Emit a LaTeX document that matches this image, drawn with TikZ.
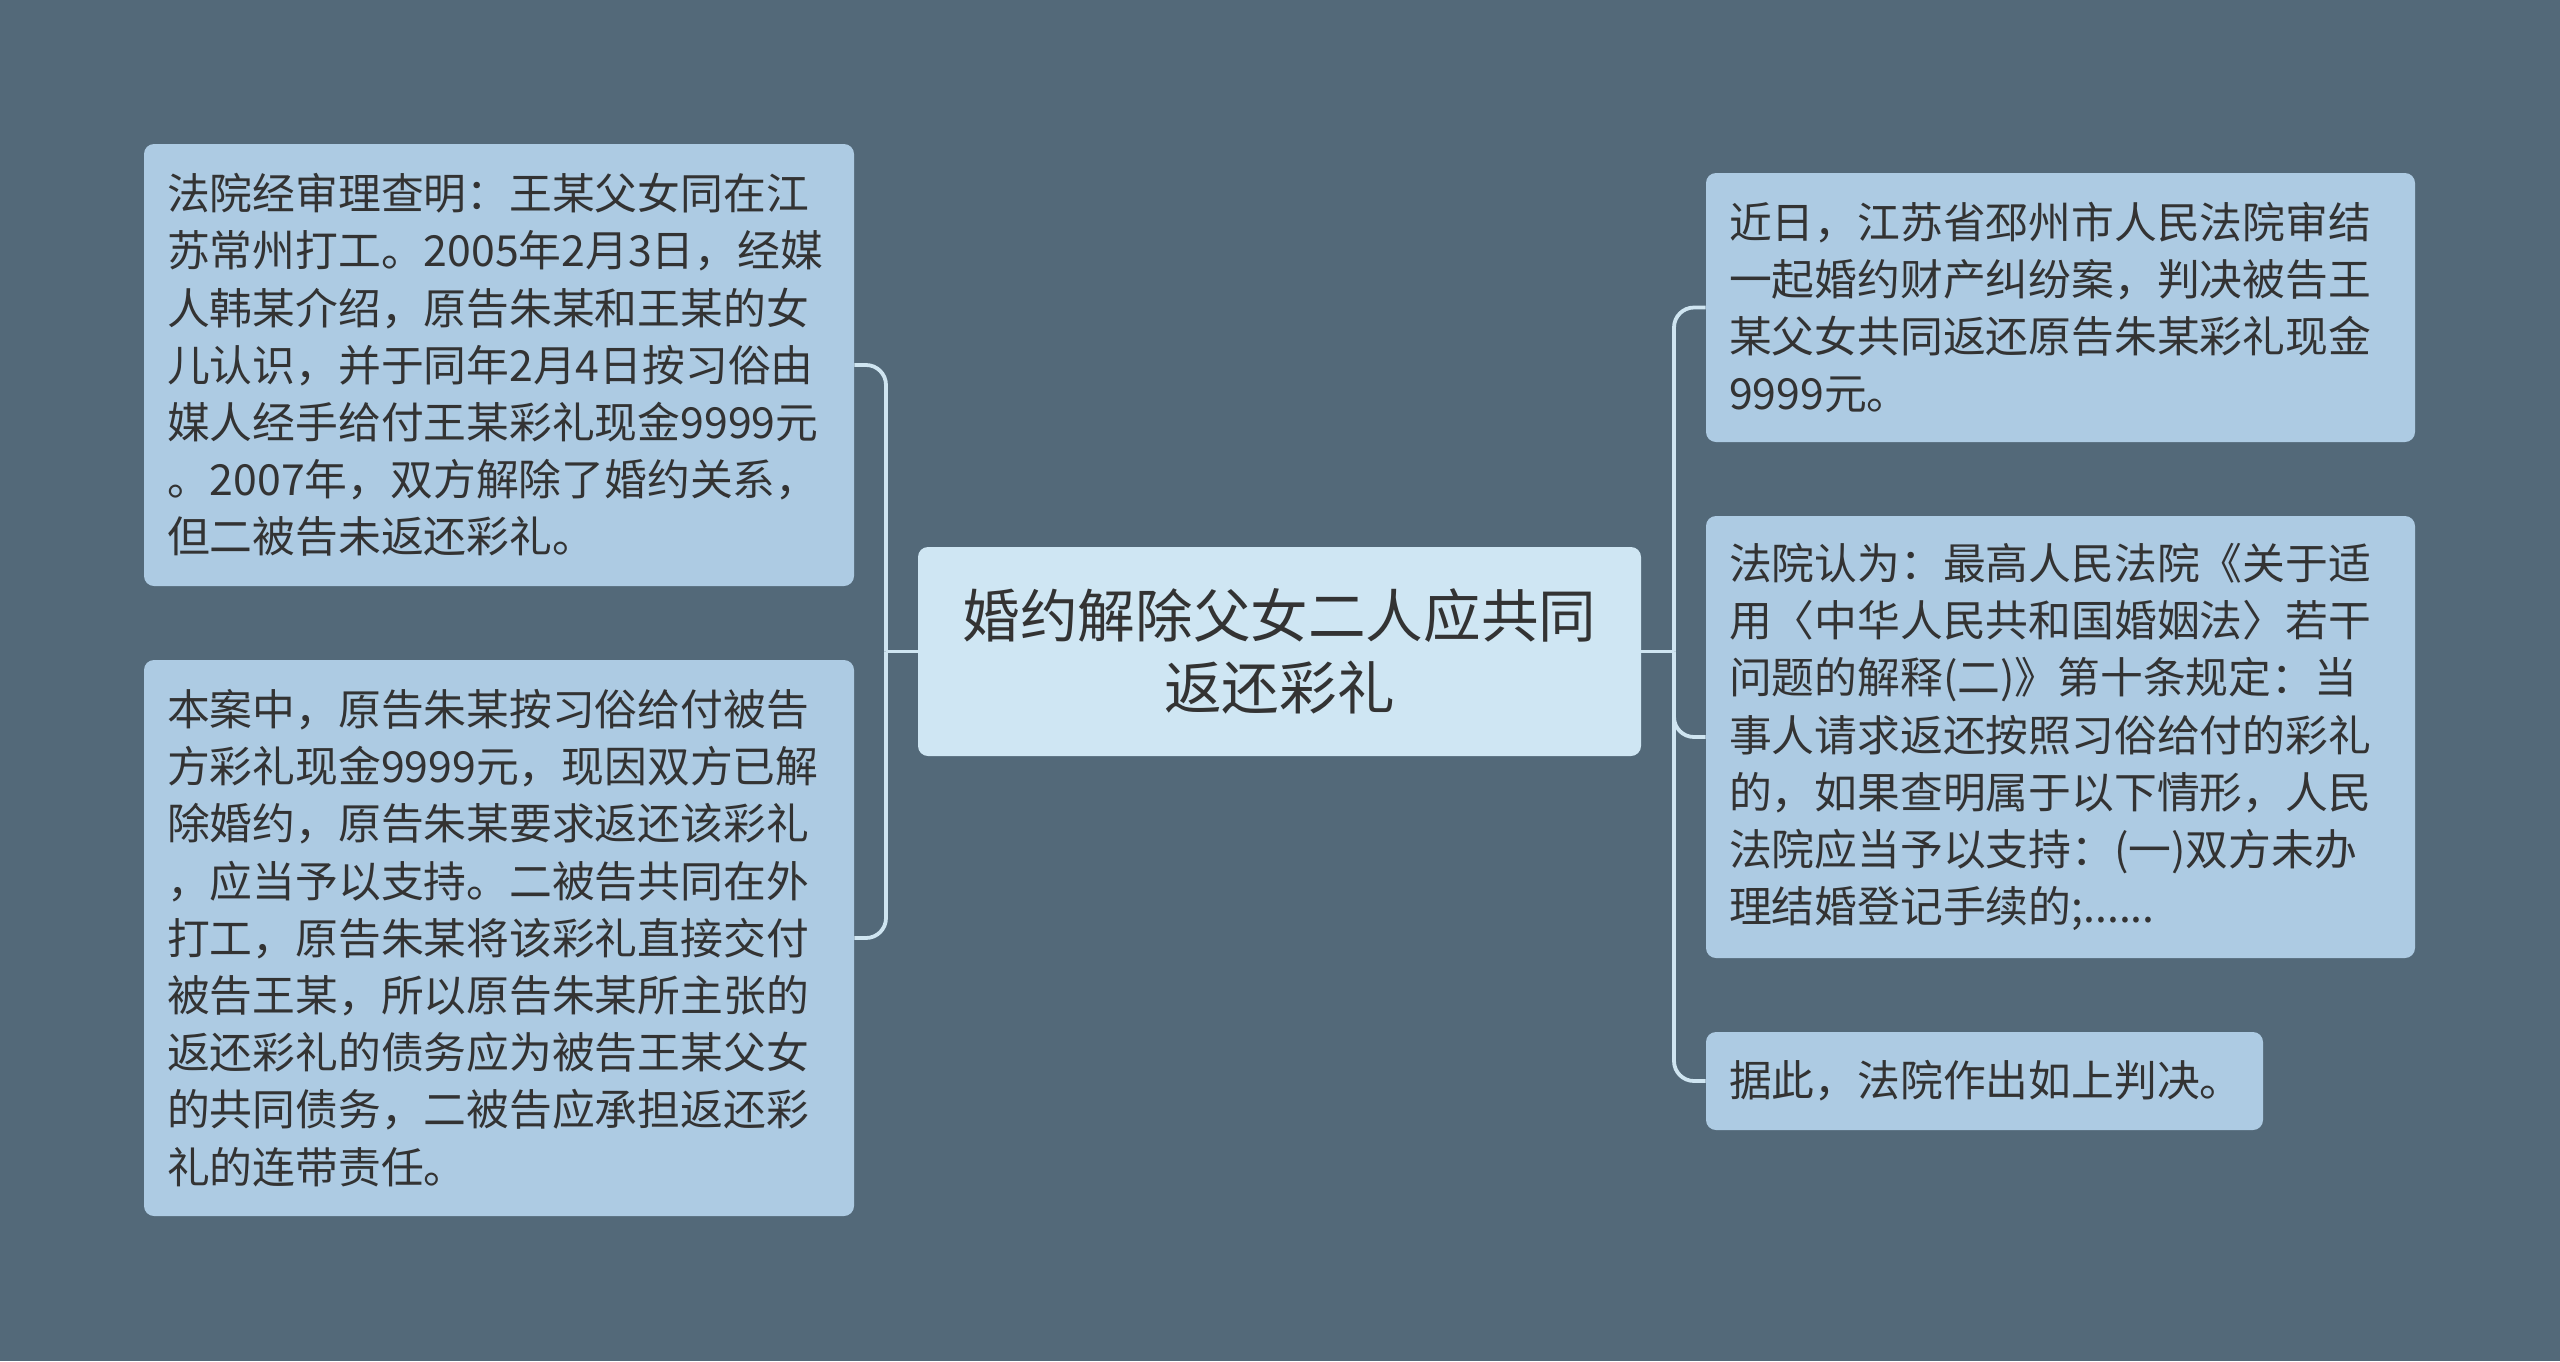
\documentclass[tikz,border=0pt]{standalone}
\usepackage{fontspec}
\setmainfont{Noto Sans CJK SC}
\definecolor{bg}{HTML}{536979}
\definecolor{nodefill}{HTML}{ADCBE3}
\definecolor{centerfill}{HTML}{CFE6F3}
\definecolor{linec}{HTML}{CFE5F1}
\definecolor{txt}{HTML}{333333}
\begin{document}
\begin{tikzpicture}[x=0.5pt,y=-0.5pt,
  leaf/.style={fill=nodefill, rounded corners=5pt, text=txt, align=left,
    inner xsep=11.5pt, inner ysep=0pt, anchor=center,
    font=\fontsize{21.4pt}{28.6pt}\selectfont},
  root/.style={fill=centerfill, rounded corners=5pt, text=txt, align=center,
    inner sep=0pt, anchor=center, minimum width=361.5pt, minimum height=104.5pt,
    text width=340pt, font=\fontsize{28.8pt}{36pt}\selectfont},
  conn/.style={draw=linec, line width=1.9pt, rounded corners=10pt}]
\fill[bg] (0,0) rectangle (2560,1361);
\useasboundingbox (0,0) rectangle (2560,1361);

\node[root] (c) at (1279.5,651.5) {婚约解除父女二人应共同\\返还彩礼};

\node[leaf, text width=332pt, minimum height=221pt] (l1) at (499,365) {法院经审理查明：王某父女同在江\\苏常州打工。2005年2月3日，经媒\\人韩某介绍，原告朱某和王某的女\\儿认识，并于同年2月4日按习俗由\\媒人经手给付王某彩礼现金9999元\\。2007年，双方解除了婚约关系，\\但二被告未返还彩礼。};

\node[leaf, text width=332pt, minimum height=278pt] (l2) at (499,938) {本案中，原告朱某按习俗给付被告\\方彩礼现金9999元，现因双方已解\\除婚约，原告朱某要求返还该彩礼\\，应当予以支持。二被告共同在外\\打工，原告朱某将该彩礼直接交付\\被告王某，所以原告朱某所主张的\\返还彩礼的债务应为被告王某父女\\的共同债务，二被告应承担返还彩\\礼的连带责任。};

\node[leaf, text width=331.5pt, minimum height=134.5pt] (r1) at (2060.5,307.5) {近日，江苏省邳州市人民法院审结\\一起婚约财产纠纷案，判决被告王\\某父女共同返还原告朱某彩礼现金\\9999元。};

\node[leaf, text width=331.5pt, minimum height=221pt] (r2) at (2060.5,737) {法院认为：最高人民法院《关于适\\用〈中华人民共和国婚姻法〉若干\\问题的解释(二)》第十条规定：当\\事人请求返还按照习俗给付的彩礼\\的，如果查明属于以下情形，人民\\法院应当予以支持：(一)双方未办\\理结婚登记手续的;......};

\node[leaf, text width=255.5pt, minimum height=49pt] (r3) at (1984.5,1081) {据此，法院作出如上判决。};

\coordinate (lj) at (886,651.5);
\coordinate (rj) at (1674,651.5);

\draw[conn] (c.west) -- (lj);
\draw[conn] (lj) |- (l1.east);
\draw[conn] (lj) |- (l2.east);
\draw[conn] (c.east) -- (rj);
\draw[conn] (rj) |- (r1.west);
\draw[conn] (rj) |- (r2.west);
\draw[conn] (rj) |- (r3.west);
\end{tikzpicture}
\end{document}
